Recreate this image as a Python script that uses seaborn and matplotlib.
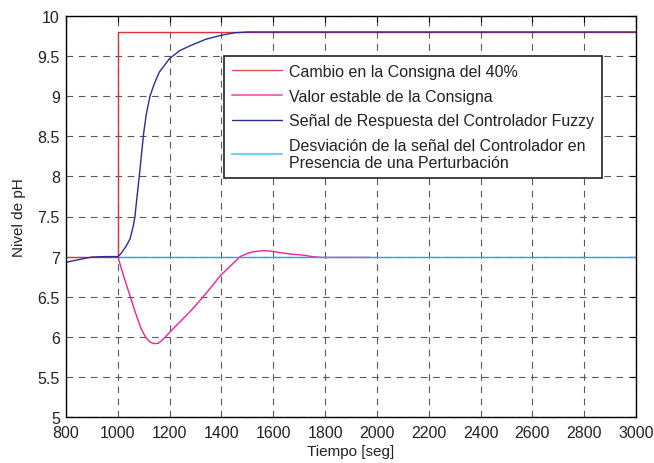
import matplotlib
matplotlib.use("Agg")
import matplotlib.pyplot as plt
from matplotlib.lines import Line2D
import seaborn as sns

# Setpoint step (40% change)
setpoint_t = [800, 1000, 1000, 3000]
setpoint_ph = [7.0, 7.0, 9.8, 9.8]

# Fuzzy controller response to the setpoint change
fuzzy_t = [800, 830, 860, 900, 950, 1000, 1010, 1030, 1047, 1060, 1066, 1073,
           1083, 1092, 1100, 1110, 1124, 1140, 1160, 1200, 1240, 1280, 1340,
           1400, 1450, 1500, 3000]
fuzzy_ph = [6.93, 6.95, 6.97, 6.995, 7.0, 7.0, 7.03, 7.12, 7.22, 7.39, 7.5, 7.72,
            8.01, 8.3, 8.55, 8.78, 9.0, 9.15, 9.3, 9.47, 9.57, 9.63, 9.71,
            9.76, 9.79, 9.8, 9.8]

# Controller deviation under a disturbance
dist_t = [1000, 1020, 1047, 1070, 1090, 1108, 1124, 1140, 1156, 1175, 1201, 1250,
          1292, 1340, 1395, 1440, 1472, 1500, 1523, 1560, 1588, 1626, 1671, 1710,
          1750, 1787, 1975]
dist_ph = [7.0, 6.78, 6.51, 6.28, 6.10, 5.99, 5.935, 5.915, 5.92, 5.97, 6.06, 6.22,
           6.36, 6.54, 6.76, 6.90, 7.0, 7.04, 7.06, 7.075, 7.07, 7.05, 7.03, 7.02,
           7.0, 6.99, 6.99]

# Steady setpoint value
steady_t = [1000, 3000]
steady_ph = [7.0, 7.0]

labels = ["Cambio en la Consigna del 40%",
          "Valor estable de la Consigna",
          "Señal de Respuesta del Controlador Fuzzy",
          "Desviación de la señal del Controlador en\nPresencia de una Perturbación"]

x_ticks = list(range(800, 3001, 200))
y_ticks = [5, 5.5, 6, 6.5, 7, 7.5, 8, 8.5, 9, 9.5, 10]
y_ticklabels = ["5", "5.5", "6", "6.5", "7", "7.5", "8", "8.5", "9", "9.5", "10"]

sns.set_style("white")
plt.rcParams["font.family"] = ["Liberation Sans", "DejaVu Sans"]
plt.rcParams["font.size"] = 10

fig = plt.figure(figsize=(6.54, 4.64), dpi=100)
ax = fig.add_axes([0.101, 0.099, 0.8715, 0.8645])

red = "#e0303c"
pink = "#f0209a"
navy = "#2c2c90"
cyan = "#1ea8e8"

common = dict(ax=ax, estimator=None, sort=False, linewidth=1.0)
sns.lineplot(x=dist_t, y=dist_ph, color=pink, **common)
sns.lineplot(x=steady_t, y=steady_ph, color=cyan, **common)
sns.lineplot(x=setpoint_t, y=setpoint_ph, color=red, **common)
sns.lineplot(x=fuzzy_t, y=fuzzy_ph, color=navy, **common)

ax.set_xlim(800, 3000)
ax.set_ylim(5, 10)
ax.set_xticks(x_ticks)
ax.set_xticklabels([str(v) for v in x_ticks])
ax.set_yticks(y_ticks)
ax.set_yticklabels(y_ticklabels)
ax.tick_params(direction="in", length=4, width=0.8, top=True, right=True,
               labelsize=11.5, colors="black")
ax.tick_params(axis="x", pad=5.5)
ax.tick_params(axis="y", pad=4.5)
for lbl in ax.get_xticklabels() + ax.get_yticklabels():
    lbl.set_color("#222222")
ax.grid(True, color="0.35", linestyle=(0, (6, 5)), linewidth=0.8)
for s in ax.spines.values():
    s.set_visible(True)
    s.set_color("black")
    s.set_linewidth(1.0)

ax.set_xlabel("Tiempo [seg]", fontsize=11, color="#222222", labelpad=3)
ax.set_ylabel("Nivel de pH", fontsize=11, color="#222222", labelpad=8)

# legend handles in the order of the labels
handles = [Line2D([], [], color="#e84a5a", lw=1.0),
           Line2D([], [], color="#f070c0", lw=1.5),
           Line2D([], [], color=navy, lw=1.0),
           Line2D([], [], color="#70d0f0", lw=1.5)]
leg = ax.legend(handles, labels, loc="upper right", bbox_to_anchor=(0.940, 0.900),
                fontsize=11.5, frameon=True, fancybox=False, framealpha=1,
                edgecolor="#222222", handlelength=3.1, handletextpad=0.45,
                borderpad=0.5, labelspacing=0.6, borderaxespad=0)
leg.get_frame().set_linewidth(1.2)
for t in leg.get_texts():
    t.set_color("#222222")

fig.savefig("out.png", dpi=100)
